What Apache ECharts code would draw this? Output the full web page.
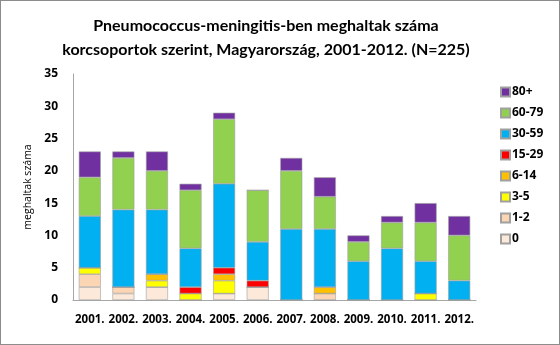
<!DOCTYPE html>
<html><head><meta charset="utf-8">
<script src="https://cdn.jsdelivr.net/npm/echarts@6/dist/echarts.min.js"></script>
<style>html,body{margin:0;padding:0;background:#fff}#c{width:560px;height:345px;box-sizing:border-box;border:1px solid #8c8c8c}</style>
</head><body><div id="c"></div>
<script>
const years = ['2001.','2002.','2003.','2004.','2005.','2006.','2007.','2008.','2009.','2010.','2011.','2012.'];
const groupNames = ['0','1-2','3-5','6-14','15-29','30-59','60-79','80+'];
const age0    = [2,1,2,0,1,2,0,0,0,0,0,0];
const age1_2  = [2,1,0,0,0,0,0,1,0,0,0,0];
const age3_5  = [1,0,1,1,2,0,0,0,0,0,1,0];
const age6_14 = [0,0,1,0,1,0,0,1,0,0,0,0];
const age15_29= [0,0,0,1,1,1,0,0,0,0,0,0];
const age30_59= [8,12,10,6,13,6,11,9,6,8,5,3];
const age60_79= [6,8,6,9,10,8,9,5,3,4,6,7];
const age80   = [4,1,3,1,1,0,2,3,1,1,3,3];
const yTicks = [0,5,10,15,20,25,30,35];

const seriesData = [age0,age1_2,age3_5,age6_14,age15_29,age30_59,age60_79,age80];
const colors = ['#fde9d9','#fcd5b4','#ffff00','#ffc000','#ff0000','#00b0f0','#92d050','#7030a0'];

const chart = echarts.init(document.getElementById('c'));
chart.setOption({
  animation:false,
  title:{
    text:'Pneumococcus-meningitis-ben meghaltak száma\nkorcsoportok szerint, Magyarország, 2001-2012. (N=225)',
    left:260, top:8, textAlign:'center',
    textStyle:{fontFamily:'Lato', fontSize:16, fontWeight:'bold', color:'#000', lineHeight:24}
  },
  legend:{
    orient:'vertical', left:494, top:80, itemWidth:9, itemHeight:9, itemGap:9,
    data:groupNames.slice().reverse(),
    textStyle:{fontFamily:'Open Sans', fontSize:12, fontWeight:'bold', color:'#000', padding:[0,0,0,-3]},
    icon:'rect'
  },
  grid:{left:72, right:83, top:73, bottom:44},
  xAxis:{
    type:'category', data:years,
    axisLine:{lineStyle:{color:'#a6a6a6'}}, axisTick:{show:false},
    axisLabel:{fontFamily:'Open Sans', fontSize:11.5, fontWeight:'bold', color:'#000', margin:14, interval:0}
  },
  yAxis:{
    type:'value', min:0, max:35, interval:5,
    name:'meghaltak száma', nameLocation:'middle', nameGap:33, nameRotate:90,
    nameTextStyle:{fontFamily:'Open Sans', fontSize:10.5, color:'#000'},
    axisLine:{show:true, lineStyle:{color:'#a6a6a6'}}, axisTick:{show:false},
    splitLine:{show:false},
    axisLabel:{fontFamily:'Open Sans', fontSize:12, fontWeight:'bold', color:'#000', margin:15,
      formatter:v=>yTicks.includes(v)?String(v):''}
  },
  series: seriesData.map((d,i)=>({
    name:groupNames[i], type:'bar', stack:'all', data:d, barWidth:22,
    itemStyle:{color:colors[i], borderColor:'#a0a0a0', borderWidth:0.6}
  }))
});
</script></body></html>
